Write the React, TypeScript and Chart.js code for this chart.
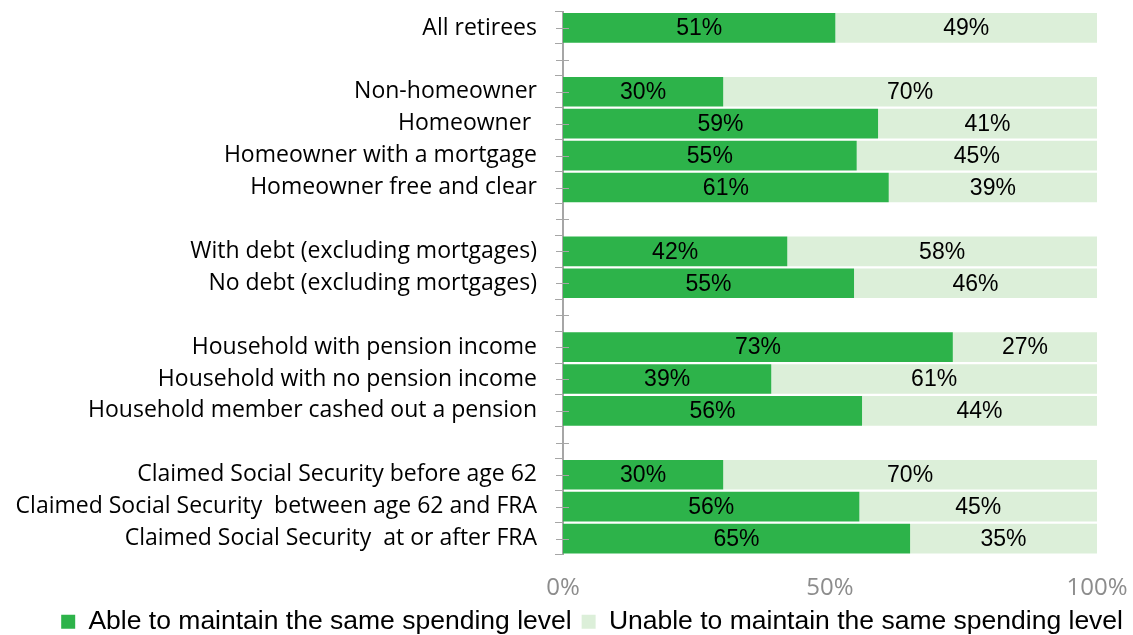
import React, { useEffect, useRef } from "react";
import { Chart, registerables } from "chart.js";

Chart.register(...registerables);

const categories: string[] = [
  "All retirees",
  "",
  "Non-homeowner",
  "Homeowner ",
  "Homeowner with a mortgage",
  "Homeowner free and clear",
  "",
  "With debt (excluding mortgages)",
  "No debt (excluding mortgages)",
  "",
  "Household with pension income",
  "Household with no pension income",
  "Household member cashed out a pension",
  "",
  "Claimed Social Security before age 62",
  "Claimed Social Security  between age 62 and FRA",
  "Claimed Social Security  at or after FRA",
];

const ableValues: (number | null)[] = [51, null, 30, 59, 55, 61, null, 42, 54.5, null, 73, 39, 56, null, 30, 55.5, 65];
const unableValues: (number | null)[] = [49, null, 70, 41, 45, 39, null, 58, 45.5, null, 27, 61, 44, null, 70, 44.5, 35];

const seriesNames = ["Able to maintain the same spending level", "Unable to maintain the same spending level"];
const xTicks = [0, 50, 100];

const ARIAL = "'Liberation Sans', Arial, sans-serif";
const HUMAN = "'Open Sans', 'Noto Sans', sans-serif";

const barLabels = {
  id: "barLabels",
  afterDatasetsDraw(chart: any) {
    const ctx = chart.ctx;
    ctx.save();
    ctx.font = `23px ${ARIAL}`;
    ctx.fillStyle = "#000";
    ctx.textAlign = "center";
    ctx.textBaseline = "middle";
    chart.data.datasets.forEach((ds: any, di: number) => {
      const meta = chart.getDatasetMeta(di);
      meta.data.forEach((el: any, i: number) => {
        const v = ds.data[i];
        if (v == null) return;
        const p = el.getProps(["x", "y", "base"], true);
        const cx = (p.x + p.base) / 2;
        ctx.fillText(Math.round(v) + "%", cx, p.y + 1);
      });
    });
    ctx.restore();
  },
};

const centerTicks = {
  id: "centerTicks",
  afterDraw(chart: any) {
    const y = chart.scales.y;
    const ctx = chart.ctx;
    ctx.save();
    ctx.strokeStyle = "#a6a6a6";
    ctx.lineWidth = 1;
    for (let i = 0; i < categories.length; i++) {
      const py = Math.round(y.getPixelForValue(i)) + 0.5;
      ctx.beginPath();
      ctx.moveTo(y.right - 7, py);
      ctx.lineTo(y.right + 6, py);
      ctx.stroke();
    }
    ctx.restore();
  },
};

export default function App() {
  const ref = useRef<HTMLCanvasElement>(null);
  useEffect(() => {
    if (!ref.current) return;
    const chart = new Chart(ref.current, {
      type: "bar",
      data: {
        labels: categories,
        datasets: [
          {
            label: seriesNames[0],
            data: ableValues,
            backgroundColor: "#2db34a",
            barPercentage: 0.93,
            categoryPercentage: 1,
          },
          {
            label: seriesNames[1],
            data: unableValues,
            backgroundColor: "#dcefd9",
            barPercentage: 0.93,
            categoryPercentage: 1,
          },
        ],
      },
      options: {
        indexAxis: "y",
        responsive: false,
        animation: false,
        layout: { padding: { top: 12, right: 0, left: 0, bottom: -10 } },
        plugins: {
          legend: {
            position: "bottom",
            align: "end",
            labels: {
              boxWidth: 14,
              boxHeight: 14,
              padding: 10,
              color: "#000",
              font: { family: ARIAL, size: 26.5 },
            },
          },
          tooltip: { enabled: false },
        },
        scales: {
          x: {
            stacked: true,
            min: 0,
            max: 100,
            afterBuildTicks: (scale: any) => {
              scale.ticks = xTicks.map((v) => ({ value: v }));
            },
            afterFit: (scale: any) => {
              scale.paddingLeft = 0;
              scale.paddingRight = 36;
              scale.height = 44;
            },
            ticks: {
              color: "#8c8c8c",
              font: { family: HUMAN, size: 24 },
              padding: 11,
              maxRotation: 0,
              callback: (v: any) => v + "%",
            },
            grid: { display: false },
            border: { display: false },
          },
          y: {
            stacked: true,
            afterFit: (scale: any) => {
              scale.width = 563;
              scale.paddingTop = 0;
              scale.paddingBottom = 0;
            },
            ticks: {
              color: "#000",
              font: { family: HUMAN, size: 23 },
              padding: 18,
              autoSkip: false,
            },
            grid: {
              offset: true,
              drawOnChartArea: false,
              tickLength: 8,
              color: "#a6a6a6",
            },
            border: { display: true, color: "#a6a6a6", width: 2 },
          },
        },
      },
      plugins: [barLabels, centerTicks],
    });
    return () => chart.destroy();
  }, []);
  return (
    <div style={{ position: "fixed", left: 0, top: 0, width: 1133, height: 635, background: "#fff" }}>
      <canvas ref={ref} width={1133} height={635} style={{ width: 1133, height: 635 }} />
    </div>
  );
}
